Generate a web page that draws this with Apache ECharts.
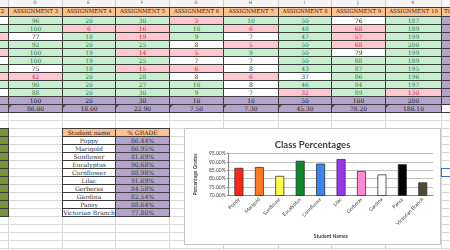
<!DOCTYPE html>
<html><head><meta charset="utf-8">
<script src="https://cdn.jsdelivr.net/npm/echarts/dist/echarts.min.js"></script>
<style>
html,body{margin:0;padding:0;background:#fff;width:450px;height:250px;overflow:hidden}
#sheet{position:absolute;left:0;top:0;width:450px;height:250px;overflow:hidden;font-family:"DejaVu Serif",serif}
.c{position:absolute;box-sizing:border-box;display:flex;align-items:center;justify-content:center;white-space:nowrap;overflow:hidden;font-size:6px;line-height:1}
.g{position:absolute;background:#d9d9d9}
.tri{position:absolute;width:0;height:0;border-top:3px solid #1e7a1e;border-right:3px solid transparent}
#chartbox{position:absolute;left:184px;top:128px;width:257px;height:117px;box-sizing:border-box;border:1px solid #c4c4c4;background:#fff}
#chart{position:absolute;left:0;top:0;width:255px;height:115px}
</style></head>
<body>
<div id="sheet"></div>
<div id="chartbox"><div id="chart"></div></div>
<script>
// ---- spreadsheet data ----
const columnLetters = ["C","D","E","F","G","H","I","J","K","L"];
const assignmentNames = ["ASSIGNMENT 2","ASSIGNMENT 3","ASSIGNMENT 4","ASSIGNMENT 5","ASSIGNMENT 6","ASSIGNMENT 7","ASSIGNMENT 8","ASSIGNMENT 9","ASSIGNMENT 10"];
const scoresA3 = [96,100,77,92,100,100,75,42,90,88];
const scoresA4 = [20,6,18,20,19,19,18,20,20,20];
const scoresA5 = [30,16,19,25,14,25,15,28,27,30];
const scoresA6 = [3,10,9,8,5,7,6,8,10,9];
const scoresA7 = [10,6,7,5,9,7,8,6,8,7];
const scoresA8 = [50,48,47,50,50,50,43,37,46,32];
const scoresA9 = [76,68,57,68,79,88,87,86,84,89];
const scoresA10 = [187,189,199,200,199,189,195,196,197,130];
const fillA3 = "ggwgggwrgg", fillA4 = "grgggggggg", fillA5 = "grrgrgrggg", fillA6 = "rggwrwrwgg";
const fillA7 = "grwrgwwrww", fillA8 = "gggggggwgr", fillA9 = "wrrrwggggg", fillA10 = "gggggggggr";
const fillA2 = "wgrgrwgrgw";
const maxPoints = [100,20,30,10,10,50,100,200];
const averages = ["86.00","18.00","22.90","7.50","7.30","45.30","78.20","186.10"];
const totalHeader = "TOTAL";
// ---- chart data ----
const students = ["Poppy","Marigold","Sunflower","Eucalyptus","Cornflower","Lilac","Gerberas","Gardina","Pansy","Victorian Branch"];
const grades = [86.44,86.95,81.69,90.68,88.98,91.69,84.58,82.54,88.64,77.80];
const barColors = ["#ff2418","#ff7a22","#ffff45","#0b8a2a","#3a84f2","#9b35ee","#ff8ad0","#ffffff","#000000","#524a32"];
const chartTitle = "Class Percentages";
const yTitle = "Percentage Grades";
const xTitle = "Student Names";
const tableHeaders = ["Student name","% GRADE"];

// ---- layout ----
const colB = [-46, 8, 62, 115, 169, 223, 278, 331, 385, 441, 495];
function rowTop(k){ return 16 + 8*k; }
const sheet = document.getElementById('sheet');
function add(html){ sheet.insertAdjacentHTML('beforeend', html); }
function cell(x0,x1,y0,y1,bg,txt,color,extra){
  add(`<div class="c" style="left:${x0}px;top:${y0}px;width:${x1-x0+1}px;height:${y1-y0+1}px;background:${bg};color:${color};border:1px solid #3c3c3c;${extra||''}">${txt}</div>`);
}
// light gridlines
const rowLines = [7];
for (let k=0;k<=30;k++) rowLines.push(rowTop(k));
rowLines.forEach(y=>add(`<div class="g" style="left:0;top:${y}px;width:450px;height:1px"></div>`));
colB.forEach(x=>add(`<div class="g" style="left:${x}px;top:0;width:1px;height:250px"></div>`));
// letter row
add(`<div style="position:absolute;left:0;top:0;width:450px;height:7px;background:#f4f4f4"></div>`);
colB.forEach(x=>add(`<div class="g" style="left:${x}px;top:0;width:1px;height:7px;background:#cfcfcf"></div>`));
columnLetters.forEach((L,i)=>add(`<div class="c" style="left:${colB[i]}px;top:0;width:${colB[i+1]-colB[i]}px;height:7px;font-family:'DejaVu Sans',sans-serif;font-size:4.5px;color:#666">${L}</div>`));

const FILL = {g:['#c6efce','#2a7d33'], r:['#ffc7ce','#d0283a'], w:['#ffffff','#111']};
const PURPLE = '#b4a3cd', ORANGE = '#f8c291';
const allScores = [null, scoresA3,scoresA4,scoresA5,scoresA6,scoresA7,scoresA8,scoresA9,scoresA10];
const allFills = [fillA2, fillA3,fillA4,fillA5,fillA6,fillA7,fillA8,fillA9,fillA10];
// header row
for (let c=0;c<9;c++) cell(colB[c],colB[c+1],7,16,ORANGE,assignmentNames[c],'#3a2412','font-size:5.4px');
cell(colB[9],colB[10],7,16,ORANGE,totalHeader,'#3a2412','justify-content:flex-start;padding-left:2px;font-size:5.4px');
// data rows
for (let c=0;c<9;c++){
  for (let k=0;k<10;k++){
    const f = FILL[allFills[c][k]];
    cell(colB[c],colB[c+1],rowTop(k),rowTop(k+1),f[0], allScores[c]?allScores[c][k]:'', f[1]);
  }
  cell(colB[c],colB[c+1],rowTop(10),rowTop(11),PURPLE, c>0?maxPoints[c-1]:'', '#222');
  cell(colB[c],colB[c+1],rowTop(11),rowTop(12),PURPLE, c>0?averages[c-1]:'', '#222');
  if (c>0) add(`<div class="tri" style="left:${colB[c]+1}px;top:${rowTop(11)+1}px"></div>`);
}
for (let k=0;k<11;k++) cell(colB[9],colB[10],rowTop(k),rowTop(k+1),PURPLE,'','#222');
cell(colB[9],colB[10],rowTop(11),rowTop(12),'#fff','','#222');
// lower area: green column C and student table
for (let k=14;k<25;k++) cell(colB[0],colB[1],rowTop(k),rowTop(k+1),'#76933c','','#222');
cell(colB[2],colB[3],rowTop(14),rowTop(15),ORANGE,tableHeaders[0],'#3a2412');
cell(colB[3],colB[4],rowTop(14),rowTop(15),ORANGE,tableHeaders[1],'#3a2412');
students.forEach((s,i)=>{
  cell(colB[2],colB[3],rowTop(15+i),rowTop(16+i),'#fff',s,'#333');
  cell(colB[3],colB[4],rowTop(15+i),rowTop(16+i),PURPLE,grades[i].toFixed(2)+'%','#333');
});
// selected cell
add(`<div style="position:absolute;left:441px;top:168px;width:40px;height:9px;box-sizing:border-box;border:1.5px solid #3f6fc6"></div>`);

// ---- chart ----
const chart = echarts.init(document.getElementById('chart'), null, {renderer:'canvas'});
const F = 'Lato, "Open Sans", sans-serif';
chart.setOption({
  animation:false,
  backgroundColor:'#fff',
  title:{text:chartTitle, left:'center', top:6, textStyle:{fontFamily:F, fontSize:9.5, fontWeight:'bold', color:'#404040'}},
  grid:{left:36, right:7, top:24.5, bottom:48.5, containLabel:false},
  xAxis:{type:'category', data:students, name:xTitle, nameLocation:'middle', nameGap:38,
    nameTextStyle:{fontFamily:F, fontSize:5, fontWeight:'bold', color:'#404040'},
    axisLine:{lineStyle:{color:'#868686', width:1}}, axisTick:{show:false},
    axisLabel:{rotate:45, interval:0, fontSize:5, color:'#404040', margin:3, fontFamily:F}},
  yAxis:{type:'value', min:70, max:95, interval:5, name:yTitle, nameLocation:'middle', nameGap:25,
    nameTextStyle:{fontFamily:F, fontSize:5, fontWeight:'bold', color:'#404040'},
    axisLine:{show:true, lineStyle:{color:'#868686'}}, axisTick:{show:true, length:2, lineStyle:{color:'#868686'}},
    axisLabel:{fontSize:5, color:'#404040', margin:3, fontFamily:F, formatter:v=>v.toFixed(2)+'%'},
    splitLine:{lineStyle:{color:'#bfbfbf', width:1}}},
  series:[{type:'bar', barWidth:9,
    data:grades.map((v,i)=>({value:v, itemStyle:{color:barColors[i]}})),
    itemStyle:{borderColor:'#333', borderWidth:0.8}}]
});
</script>
</body></html>
